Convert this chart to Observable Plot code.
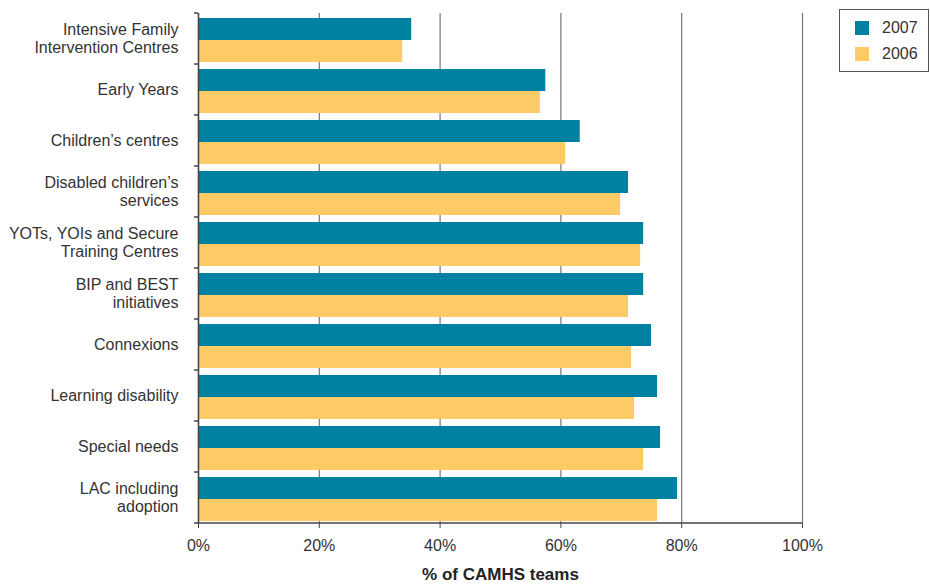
<!DOCTYPE html>
<html><head><meta charset="utf-8">
<script src="https://cdn.jsdelivr.net/npm/d3@7"></script>
<script src="https://cdn.jsdelivr.net/npm/@observablehq/plot@0.6"></script>
<style>
body{margin:0;background:#fff;}
#wrap{position:relative;width:930px;height:584px;font-family:"Liberation Sans",Arial,sans-serif;color:#333;}
#legend{position:absolute;left:839px;top:9px;width:90px;height:63px;border:1px solid #555;box-sizing:border-box;background:#fff;}
.item{position:absolute;left:15px;display:flex;align-items:center;font-size:16px;color:#333;}
.sw{width:14px;height:14px;margin-right:13px;}
</style></head><body>
<div id="wrap"><div id="chart"></div><div id="legend"></div></div>
<script>
const categories = [
  "Intensive Family\nIntervention Centres",
  "Early Years",
  "Children’s centres",
  "Disabled children’s\nservices",
  "YOTs, YOIs and Secure\nTraining Centres",
  "BIP and BEST\ninitiatives",
  "Connexions",
  "Learning disability",
  "Special needs",
  "LAC including\nadoption"
];
const values2007 = [35.3, 57.5, 63.2, 71.2, 73.7, 73.7, 75.0, 76.0, 76.5, 79.3];
const values2006 = [33.8, 56.6, 60.8, 69.9, 73.2, 71.2, 71.7, 72.2, 73.7, 76.0];
const years = ["2007", "2006"];
const colors = ["#0081a1", "#fdcb65"];
const xTicks = [0, 20, 40, 60, 80, 100];
const xTickLabels = ["0%", "20%", "40%", "60%", "80%", "100%"];
const xLabel = "% of CAMHS teams";

const data = categories.flatMap((c, i) => [
  {category: c, year: years[0], value: values2007[i]},
  {category: c, year: years[1], value: values2006[i]}
]);

const chart = Plot.plot({
  width: 930, height: 584,
  marginLeft: 198, marginRight: 128, marginTop: 10, marginBottom: 58,
  style: {fontFamily: '"Liberation Sans", Arial, sans-serif', fontSize: "16px", color: "#333", background: "#fff"},
  x: {domain: [0, 100]},
  fy: {domain: categories, padding: 0, label: null},
  y: {domain: years, paddingInner: 0, paddingOuter: 0.157, align: 0.75, axis: null},
  color: {domain: years, range: colors},
  marks: [
    Plot.gridX(xTicks, {stroke: "#777", strokeOpacity: 1, strokeWidth: 1.2}),
    Plot.barX(data, {fy: "category", y: "year", x: "value", fill: "year"}),
    Plot.ruleX([0], {stroke: "#444", strokeWidth: 1.5}),
    Plot.axisX(xTicks, {
      tickFormat: d => xTickLabels[xTicks.indexOf(d)],
      tickSize: 5, tickPadding: 11, stroke: "#444", fill: "#333", fontSize: 16,
      label: xLabel, labelArrow: "none", labelAnchor: "center", labelOffset: 56
    }),
    Plot.axisFy({anchor: "left", tickSize: 0, tickPadding: 20, fontSize: 16, lineHeight: 1.15, fill: "#333", dy: -1, label: null})
  ]
});
document.getElementById("chart").appendChild(chart);

// axis decorations from the library's scales
const fy = chart.scale("fy");
const xs = chart.scale("x");
const svg = d3.select(chart);
const x0 = xs.apply(0), x1 = xs.apply(100);
const bottom = fy.apply(categories[categories.length - 1]) + fy.bandwidth;
const bounds = categories.map(c => fy.apply(c)).concat([bottom]);
const g = svg.append("g").attr("stroke", "#444").attr("stroke-width", 1.5);
g.selectAll("line.b").data(bounds).join("line")
  .attr("x1", x0 - 4).attr("x2", x0).attr("y1", d => d).attr("y2", d => d);
g.append("line").attr("x1", x0).attr("x2", x1 + 0.5).attr("y1", bottom).attr("y2", bottom);
svg.selectAll('g[aria-label="x-axis label"] text').text(xLabel)
  .attr("font-weight", "bold").attr("fill", "#222").attr("font-size", 17);

// legend
const legend = d3.select("#legend");
years.forEach((y, i) => {
  const it = legend.append("div").attr("class", "item").style("top", (i === 0 ? 9 : 35) + "px");
  it.append("div").attr("class", "sw").style("background", colors[i]);
  it.append("span").text(y);
});
</script>
</body></html>
